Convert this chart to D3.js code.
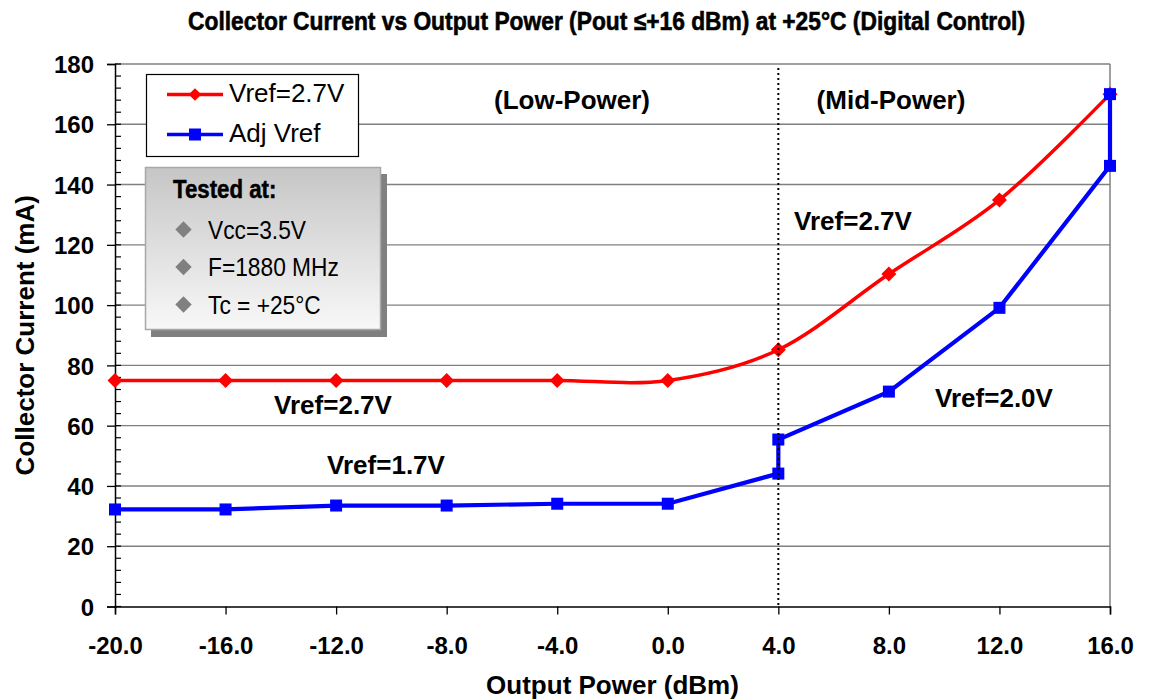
<!DOCTYPE html>
<html>
<head>
<meta charset="utf-8">
<script src="https://cdn.jsdelivr.net/npm/d3@7"></script>
<style>
  body { margin: 0; background: #fff; }
  text { font-family: Arial, "Liberation Sans", sans-serif; fill: #000; }
</style>
</head>
<body>
<script>
// data
var xTicks = [-20, -16, -12, -8, -4, 0, 4, 8, 12, 16];
var yTicks = [0, 20, 40, 60, 80, 100, 120, 140, 160, 180];

var redX = [-20, -16, -12, -8, -4, 0, 4, 8, 12, 16];
var redY = [75, 75, 75, 75, 75, 75, 85.2, 110.3, 134.9, 170];

var blueX = [-20, -16, -12, -8, -4, 0, 4, 4, 8, 12, 16, 16];
var blueY = [32.2, 32.2, 33.5, 33.5, 34.1, 34.1, 44.1, 55.4, 71.3, 99.1, 146.2, 170];

var legendLabels = ["Vref=2.7V", "Adj Vref"];
var testedLines = ["Vcc=3.5V", "F=1880 MHz", "Tc = +25°C"];

var width = 1154;
var height = 700;
var plotLeft = 115, plotRight = 1110, plotTop = 64, plotBottom = 606.5;

var svg = d3.select("body").append("svg")
    .attr("width", width)
    .attr("height", height);

var x = d3.scaleLinear().domain([-20, 16]).range([plotLeft, plotRight]);
var y = d3.scaleLinear().domain([0, 180]).range([plotBottom, plotTop]);

// squeeze a text horizontally, like a condensed face
function condense(sel, k) {
    sel.each(function () {
        var w = this.getComputedTextLength();
        d3.select(this).attr("textLength", w * k).attr("lengthAdjust", "spacingAndGlyphs");
    });
}

// gridlines
svg.append("g").selectAll("line")
    .data(yTicks.filter(d => d > 0))
    .enter().append("line")
    .attr("x1", plotLeft).attr("x2", plotRight)
    .attr("y1", d => y(d)).attr("y2", d => y(d))
    .attr("stroke", "#808080")
    .attr("stroke-width", 1.4);

// right border
svg.append("line")
    .attr("x1", plotRight).attr("x2", plotRight)
    .attr("y1", plotTop).attr("y2", plotBottom)
    .attr("stroke", "#808080")
    .attr("stroke-width", 1.5);

// y axis
var yAxis = d3.axisLeft(y).tickValues(yTicks).tickSize(8).tickPadding(13).tickFormat(d3.format("d"));
var gy = svg.append("g")
    .attr("transform", "translate(" + plotLeft + ",0)")
    .call(yAxis);
gy.select(".domain").attr("stroke", "#000").attr("stroke-width", 1.5);
gy.selectAll(".tick line").attr("stroke", "#000").attr("stroke-width", 1.3);
gy.selectAll("text").attr("font-size", 24).attr("font-weight", "bold").attr("fill", "#000")
    .attr("dy", "0.36em")
    .style("font-family", "Arial, 'Liberation Sans', sans-serif");

// inner ticks every 4 mA
svg.append("g").selectAll("line")
    .data(d3.range(0, 181, 4))
    .enter().append("line")
    .attr("x1", plotLeft).attr("x2", plotLeft + 6)
    .attr("y1", d => y(d)).attr("y2", d => y(d))
    .attr("stroke", "#000")
    .attr("stroke-width", 1.2);

// x axis
var xAxis = d3.axisBottom(x).tickValues(xTicks).tickSize(8).tickPadding(22).tickFormat(d => d.toFixed(1));
var gx = svg.append("g")
    .attr("transform", "translate(0," + plotBottom + ")")
    .call(xAxis);
gx.select(".domain").attr("stroke", "#000").attr("stroke-width", 1.5);
gx.selectAll(".tick line").attr("stroke", "#000").attr("stroke-width", 1.3);
gx.selectAll("text").attr("font-size", 24).attr("font-weight", "bold").attr("fill", "#000")
    .style("font-family", "Arial, 'Liberation Sans', sans-serif");

// series
var red = redX.map((d, i) => ({x: d, y: redY[i]}));
var blue = blueX.map((d, i) => ({x: d, y: blueY[i]}));

var smooth = d3.line()
    .x(d => x(d.x))
    .y(d => y(d.y))
    .curve(d3.curveCardinal.tension(0));

var straight = d3.line()
    .x(d => x(d.x))
    .y(d => y(d.y));

svg.append("path")
    .data([red])
    .attr("fill", "none")
    .attr("stroke", "#ff0000")
    .attr("stroke-width", 3.5)
    .attr("d", smooth);

svg.selectAll(".rm")
    .data(red)
    .enter().append("path")
    .attr("class", "rm")
    .attr("transform", d => "translate(" + x(d.x) + "," + y(d.y) + ") rotate(45)")
    .attr("d", "M-5.3,-5.3H5.3V5.3H-5.3Z")
    .attr("fill", "#ff0000");

svg.append("path")
    .data([blue])
    .attr("fill", "none")
    .attr("stroke", "#0000ff")
    .attr("stroke-width", 4.2)
    .attr("d", straight);

svg.selectAll(".bm")
    .data(blue)
    .enter().append("rect")
    .attr("class", "bm")
    .attr("x", d => x(d.x) - 6)
    .attr("y", d => y(d.y) - 6)
    .attr("width", 12)
    .attr("height", 12)
    .attr("fill", "#0000ff");

// dotted divider at 4 dBm
svg.append("line")
    .attr("x1", x(4)).attr("x2", x(4))
    .attr("y1", plotTop + 4).attr("y2", plotBottom)
    .attr("stroke", "#000")
    .attr("stroke-width", 2)
    .attr("stroke-dasharray", "2,3");

// title
svg.append("text")
    .attr("x", 606.5).attr("y", 30)
    .attr("text-anchor", "middle")
    .attr("font-size", 26)
    .attr("font-weight", "bold")
    .attr("stroke", "#000")
    .attr("stroke-width", 0.6)
    .attr("textLength", 837)
    .attr("lengthAdjust", "spacingAndGlyphs")
    .text("Collector Current vs Output Power (Pout \u2264+16 dBm) at +25°C (Digital Control)");

// axis titles
svg.append("text")
    .attr("x", (plotLeft + plotRight) / 2).attr("y", 694)
    .attr("text-anchor", "middle")
    .attr("font-size", 26)
    .attr("font-weight", "bold")
    .text("Output Power (dBm)");

svg.append("text")
    .attr("transform", "translate(34," + (plotTop + plotBottom) / 2 + ") rotate(-90)")
    .attr("text-anchor", "middle")
    .attr("font-size", 26)
    .attr("font-weight", "bold")
    .text("Collector Current (mA)");

// region and curve labels
var notes = [
    {t: "(Low-Power)", x: 572, y: 109},
    {t: "(Mid-Power)", x: 891, y: 109},
    {t: "Vref=2.7V", x: 853, y: 230},
    {t: "Vref=2.7V", x: 333, y: 414},
    {t: "Vref=1.7V", x: 386, y: 474},
    {t: "Vref=2.0V", x: 994, y: 407}
];
svg.append("g").selectAll("text")
    .data(notes)
    .enter().append("text")
    .attr("x", d => d.x).attr("y", d => d.y)
    .attr("text-anchor", "middle")
    .attr("font-size", 26)
    .attr("font-weight", "bold")
    .text(d => d.t);

// legend
var lg = svg.append("g");
lg.append("rect")
    .attr("x", 146.5).attr("y", 74.5)
    .attr("width", 212).attr("height", 82)
    .attr("fill", "#fff")
    .attr("stroke", "#000")
    .attr("stroke-width", 1.2);
var legendColors = ["#ff0000", "#0000ff"];
legendLabels.forEach(function (lab, i) {
    var ly = 94.5 + i * 40;
    lg.append("line")
        .attr("x1", 167).attr("x2", 223)
        .attr("y1", ly).attr("y2", ly)
        .attr("stroke", legendColors[i])
        .attr("stroke-width", 3.5);
    if (i == 0) {
        lg.append("path")
            .attr("transform", "translate(195," + ly + ") rotate(45)")
            .attr("d", "M-4.5,-4.5H4.5V4.5H-4.5Z")
            .attr("fill", legendColors[i]);
    } else {
        lg.append("rect")
            .attr("x", 189).attr("y", ly - 6)
            .attr("width", 12).attr("height", 12)
            .attr("fill", legendColors[i]);
    }
    lg.append("text")
        .attr("x", 229).attr("y", ly + 7)
        .attr("font-size", 26)
        .text(lab);
});

// "Tested at" box
var defs = svg.append("defs");
var grad = defs.append("linearGradient")
    .attr("id", "boxfill")
    .attr("x1", 0).attr("y1", 0).attr("x2", 0).attr("y2", 1);
grad.append("stop").attr("offset", "0%").attr("stop-color", "#c6c6c6");
grad.append("stop").attr("offset", "100%").attr("stop-color", "#f8f8f8");

var tb = svg.append("g");
tb.append("rect")
    .attr("x", 151).attr("y", 174)
    .attr("width", 236).attr("height", 163)
    .attr("fill", "#808080");
tb.append("rect")
    .attr("x", 145.5).attr("y", 167.5)
    .attr("width", 235).attr("height", 162)
    .attr("fill", "url(#boxfill)")
    .attr("stroke", "#a8a8a8")
    .attr("stroke-width", 1.5);
tb.append("text")
    .attr("x", 173).attr("y", 198)
    .attr("font-size", 26)
    .attr("font-weight", "bold")
    .attr("stroke", "#000")
    .attr("stroke-width", 0.5)
    .text("Tested at:")
    .call(condense, 0.855);
testedLines.forEach(function (t, i) {
    var ty = 229.5 + i * 37.5;
    tb.append("path")
        .attr("transform", "translate(183.5," + ty + ") rotate(45)")
        .attr("d", "M-5.8,-5.8H5.8V5.8H-5.8Z")
        .attr("fill", "#808080");
    tb.append("text")
        .attr("x", 208).attr("y", ty + 9)
        .attr("font-size", 26)
        .text(t)
        .call(condense, 0.875);
});
</script>
</body>
</html>
